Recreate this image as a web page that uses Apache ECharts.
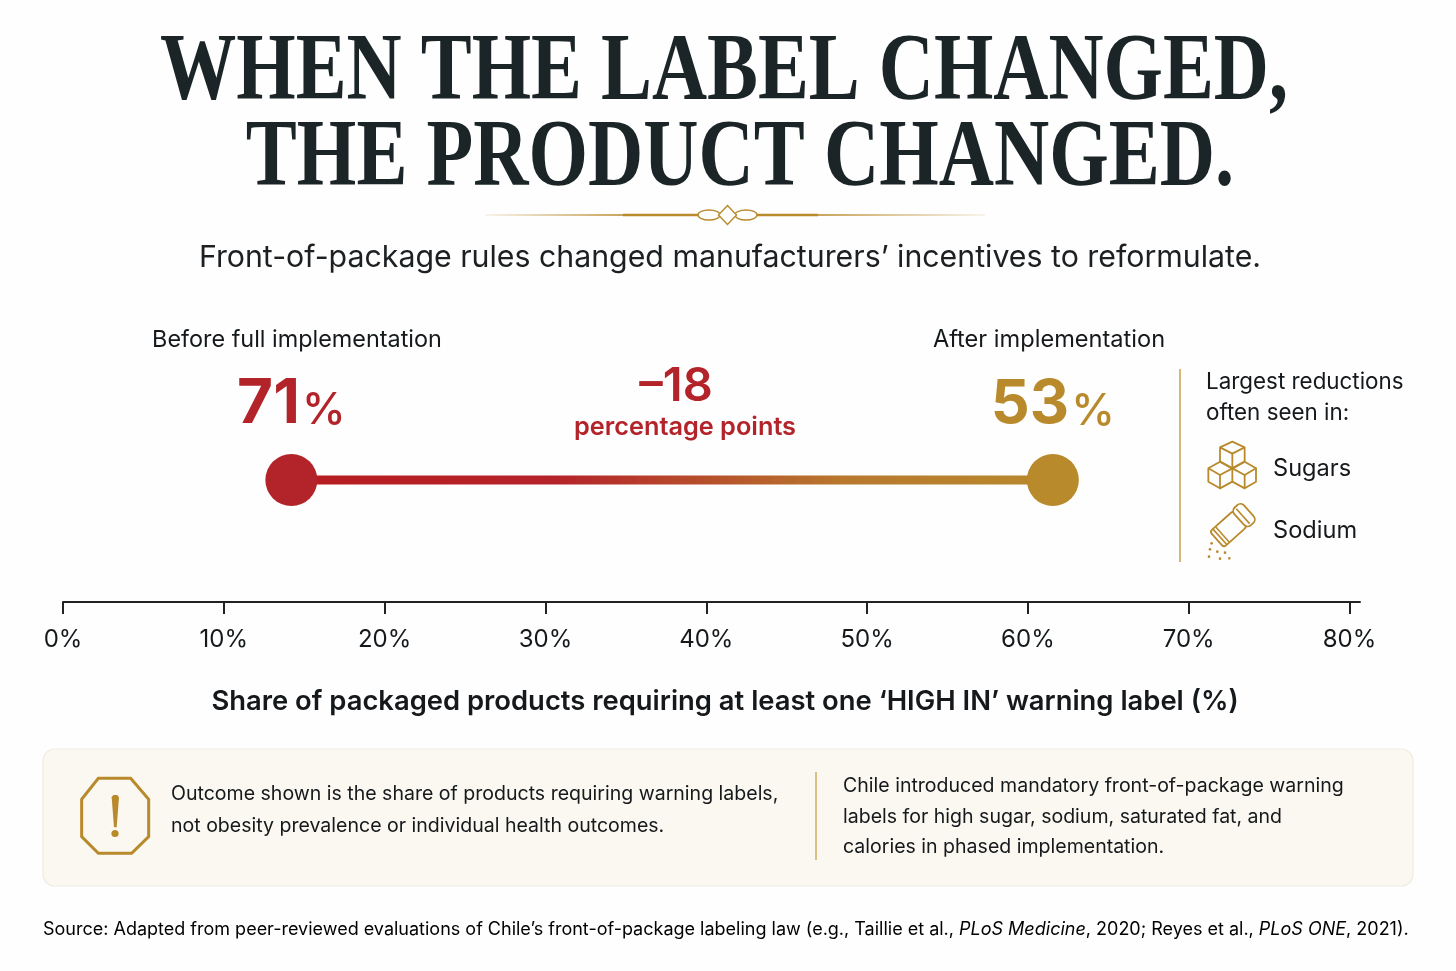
<!DOCTYPE html>
<html><head><meta charset="utf-8">
<style>html,body{margin:0;padding:0;background:#fefefe}#c{width:1456px;height:971px}</style>
<script src="https://cdn.jsdelivr.net/npm/echarts@6/dist/echarts.min.js"></script>
</head><body><div id="c"></div>
<script>
// --- data ---
const tickValues = [0,10,20,30,40,50,60,70,80];
const periodLabels = ['Before full implementation','After implementation'];
const shareValues = [71,53];              // printed values
const axisPositions = [14.2,61.55];       // where the dots actually sit on the printed axis
const changeLabel = '–18';
const changeUnit = 'percentage points';
const titleLines = ['WHEN THE LABEL CHANGED,','THE PRODUCT CHANGED.'];
const subtitle = 'Front-of-package rules changed manufacturers’ incentives to reformulate.';
const axisTitle = 'Share of packaged products requiring at least one ‘HIGH IN’ warning label (%)';
const sideHead = ['Largest reductions','often seen in:'];
const sideItems = ['Sugars','Sodium'];
const noteLeft = ['Outcome shown is the share of products requiring warning labels,','not obesity prevalence or individual health outcomes.'];
const noteRight = ['Chile introduced mandatory front-of-package warning','labels for high sugar, sodium, saturated fat, and','calories in phased implementation.'];

const RED='#B3242A', GOLD='#B88A2C', INK='#15191B', SANS='Inter';
const grad=(a,b)=>({type:'linear',x:0,y:0,x2:1,y2:0,colorStops:[{offset:0,color:a},{offset:1,color:b}]});
const T=(x,y,text,size,o={})=>({type:'text',x,y,silent:true,scaleX:o.sx||1,scaleY:o.sy||1,style:{text,fill:o.fill||INK,
  font:(o.style||'normal')+' '+(o.weight||400)+' '+size+'px '+(o.family||SANS),textAlign:o.align||'left',textVerticalAlign:'middle',textBaseline:'middle'}});
const PL=(pts,col,w,extra={})=>({type:'polyline',silent:true,shape:{points:pts},style:Object.assign({stroke:col,lineWidth:w,fill:null,lineJoin:'round',lineCap:'round'},extra)});
const map=(ox,oy,k,pts)=>pts.map(p=>[ox+p[0]/k,oy+p[1]/k]);

const cube=pts=>PL(map(1170,360,3,pts),GOLD,1.8);
const cubes=[
 [[150,262],[187,245],[224,262],[187,281],[150,262],[150,305],[187,325],[224,305],[224,262]],[[187,281],[187,325]],
 [[115,325],[150,305],[187,325],[150,345],[115,325],[115,365],[150,385],[187,365],[187,325]],[[150,345],[150,385]],
 [[187,325],[224,305],[258,325],[224,345],[187,325]],[[187,365],[224,385],[258,365],[258,325]],[[224,345],[224,385]]
].map(cube);
const shakerDots=[[125,550],[120,568],[142,575],[165,578],[117,590],[150,596],[178,595]].map(p=>({type:'circle',silent:true,shape:{cx:1170+p[0]/3,cy:360+p[1]/3,r:1.3},style:{fill:GOLD}}));
const sline=(x)=>({type:'line',shape:{x1:x,y1:-10,x2:x,y2:10},style:{stroke:GOLD,lineWidth:1.6}});
const shaker={type:'group',x:1232.5,y:525.5,rotation:0.73,silent:true,children:[
 {type:'rect',shape:{x:-21,y:-10.5,width:31,height:21,r:3},style:{fill:null,stroke:GOLD,lineWidth:1.8}},
 {type:'rect',shape:{x:9,y:-12,width:13,height:24,r:5},style:{fill:'#fefefe',stroke:GOLD,lineWidth:1.8}},
 sline(-17),sline(-13.5),sline(14)]};

const elements=[
 T(724,74,titleLines[0],96,{family:'Liberation Serif',weight:700,align:'center',sx:0.795,fill:'#1B2426'}),
 T(740,160,titleLines[1],96,{family:'Liberation Serif',weight:700,align:'center',sx:0.797,fill:'#1B2426'}),
 // ornament
 {type:'line',silent:true,shape:{x1:485,y1:215,x2:623,y2:215},style:{stroke:grad('rgba(200,163,90,0.1)','#C8A35A'),lineWidth:2}},
 {type:'line',silent:true,shape:{x1:818,y1:215,x2:985,y2:215},style:{stroke:grad('#C8A35A','rgba(200,163,90,0.1)'),lineWidth:2}},
 {type:'line',silent:true,shape:{x1:623,y1:215,x2:698,y2:215},style:{stroke:GOLD,lineWidth:2.5}},
 {type:'line',silent:true,shape:{x1:757,y1:215,x2:818,y2:215},style:{stroke:GOLD,lineWidth:2.5}},
 {type:'ellipse',silent:true,shape:{cx:709,cy:215,rx:11,ry:5},style:{fill:null,stroke:GOLD,lineWidth:1.4}},
 {type:'ellipse',silent:true,shape:{cx:746,cy:215,rx:11,ry:5},style:{fill:null,stroke:GOLD,lineWidth:1.4}},
 {type:'polygon',silent:true,shape:{points:[[727.5,205.5],[736.5,215],[727.5,224.5],[718.5,215]]},style:{fill:'#fefefe',stroke:GOLD,lineWidth:1.4}},
 T(730,258,subtitle,30.3,{align:'center',fill:'#1c2022'}),
 T(297,340,periodLabels[0],23.4,{align:'center'}),
 T(1049,340,periodLabels[1],23.6,{align:'center'}),
 T(676,387,changeLabel,47,{align:'center',fill:RED,weight:600}),
 T(685,427,changeUnit,25.3,{align:'center',fill:RED,weight:600}),
 // side panel
 {type:'line',silent:true,shape:{x1:1180,y1:369,x2:1180,y2:562},style:{stroke:'#C9A04E',lineWidth:1.5}},
 T(1206,382,sideHead[0],22.4),T(1206,413,sideHead[1],22.4),
 T(1273,469,sideItems[0],23.6),T(1273,531,sideItems[1],23.6),
 ...cubes,shaker,...shakerDots,
 T(725,702,axisTitle,27.4,{align:'center',weight:600}),
 // note panel
 {type:'rect',silent:true,shape:{x:43,y:749,width:1370,height:137,r:12},style:{fill:'#FBF8F2',stroke:'#F0EBE0',lineWidth:1.2}},
 {type:'polygon',silent:true,shape:{points:map(30,740,3,[[205,115],[302,115],[356,178],[356,290],[305,340],[205,340],[155,290],[155,178]])},style:{fill:null,stroke:GOLD,lineWidth:3}},
 {type:'polygon',silent:true,shape:{points:map(30,740,3,[[245,172],[250,165],[262,165],[267,172],[260,262],[252,262]])},style:{fill:GOLD}},
 {type:'circle',silent:true,shape:{cx:115,cy:833.5,r:3.6},style:{fill:GOLD}},
 T(171,794,noteLeft[0],19.55),T(171,826,noteLeft[1],19.55),
 {type:'line',silent:true,shape:{x1:816,y1:772,x2:816,y2:860},style:{stroke:'#C9A04E',lineWidth:1.3}},
 T(843,786,noteRight[0],19.55),T(843,817,noteRight[1],19.55),T(843,847,noteRight[2],19.55),
 {type:'text',x:43,y:930,silent:true,style:{
  text:'{n|Source: Adapted from peer-reviewed evaluations of Chile’s front-of-package labeling law (e.g., Taillie et al., }{i|PLoS Medicine}{n|, 2020; Reyes et al., }{i|PLoS ONE}{n|, 2021).}',
  rich:{i:{fontFamily:SANS,fontSize:18,fontStyle:'italic',color:INK},n:{fontFamily:SANS,fontSize:18,color:INK}},textVerticalAlign:'middle',verticalAlign:'middle'}}
];

const chart=echarts.init(document.getElementById('c'),null,{renderer:'canvas'});
chart.setOption({
 animation:false,backgroundColor:'#fefefe',
 graphic:{elements},
 grid:{left:63,width:1297,top:358,height:244,containLabel:false},
 xAxis:{type:'value',min:0,max:80.65,
   axisLine:{show:true,onZero:false,lineStyle:{color:'#222',width:2}},
   axisTick:{show:true,length:12,customValues:tickValues,lineStyle:{color:'#222',width:2}},
   axisLabel:{show:true,customValues:tickValues,margin:26,fontFamily:SANS,fontSize:24,color:INK,formatter:v=>v+'%',hideOverlap:false},
   splitLine:{show:false}},
 yAxis:{type:'value',min:0,max:1,show:false},
 series:[
  {type:'line',silent:true,symbol:'none',data:axisPositions.map(x=>[x,0.5]),z:2,
   lineStyle:{width:9,color:{type:'linear',x:0,y:0,x2:1,y2:0,colorStops:[{offset:0,color:'#B71C1F'},{offset:0.35,color:'#B5232A'},{offset:0.72,color:'#B8782E'},{offset:1,color:GOLD}]}}},
  {type:'scatter',silent:true,symbolSize:52,z:3,
   data:axisPositions.map((x,i)=>({value:[x,0.5],itemStyle:{color:i?GOLD:RED,opacity:1},
     label:{show:true,position:'top',distance:19,formatter:'{'+(i?'g':'r')+'|'+shareValues[i]+'}{'+(i?'h':'s')+'|%}',
       rich:{r:{fontFamily:SANS,fontSize:62,fontWeight:700,color:RED},s:{fontFamily:SANS,fontSize:44,fontWeight:500,color:RED,padding:[14,0,0,2]},
             g:{fontFamily:SANS,fontSize:61,fontWeight:700,color:GOLD},h:{fontFamily:SANS,fontSize:44,fontWeight:500,color:GOLD,padding:[14,0,0,2]}}}}))}
 ]
});
</script></body></html>
